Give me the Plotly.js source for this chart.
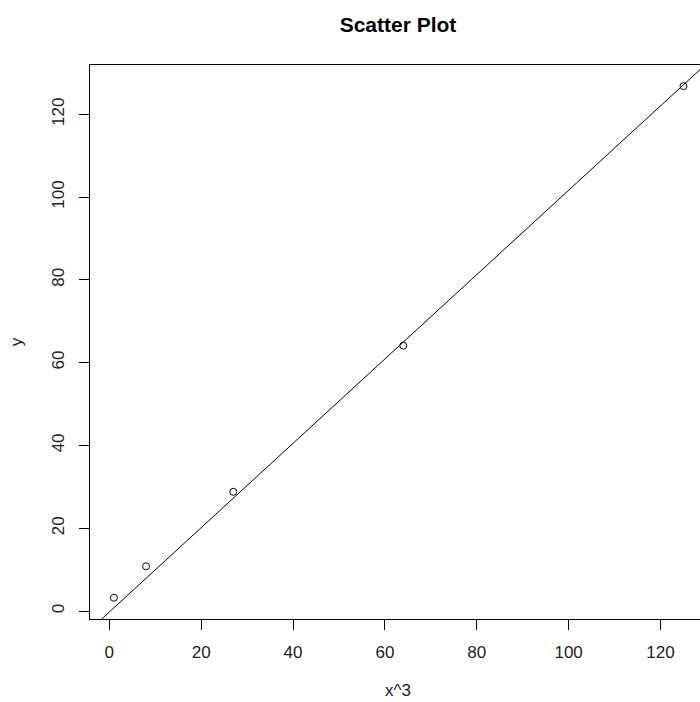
<!DOCTYPE html>
<html>
<head>
<meta charset="utf-8">
<script src="https://cdn.plot.ly/plotly-3.0.1.min.js"></script>
<style>
html, body { margin: 0; padding: 0; overflow: hidden; background: #fff; }
#chart { width: 720px; height: 702px; }
</style>
</head>
<body>
<div id="chart"></div>
<script>
// Data
const xCubed = [1, 8, 27, 64, 125];
const yValues = [3.2, 10.8, 28.8, 64.1, 126.8];
// Fitted straight line drawn across the plot (coefficients)
const fitIntercept = -0.25;
const fitSlope = 1.019;
const xTicks = [0, 20, 40, 60, 80, 100, 120];
const yTicks = [0, 20, 40, 60, 80, 100, 120];

const lineX = [-10, 140];
const lineY = lineX.map(v => fitIntercept + fitSlope * v);

const font = "Liberation Sans, Arial, sans-serif";

const traces = [
  {
    x: lineX, y: lineY, mode: 'lines', type: 'scatter',
    line: { color: '#000', width: 1 }, hoverinfo: 'skip', showlegend: false
  },
  {
    x: xCubed, y: yValues, mode: 'markers', type: 'scatter',
    marker: { symbol: 'circle-open', size: 7, color: '#000', line: { width: 1, color: '#000' } },
    showlegend: false, cliponaxis: false
  }
];

const layout = {
  width: 720, height: 702,
  margin: { l: 90, r: 14, t: 65, b: 83 },
  paper_bgcolor: '#fff', plot_bgcolor: '#fff',
  font: { family: font, color: '#000', size: 17 },
  title: {
    text: '<b>Scatter Plot</b>',
    font: { family: font, size: 21, color: '#000' },
    x: 0.5, xref: 'paper', xanchor: 'center',
    y: 1 - 25 / 702, yref: 'container', yanchor: 'middle'
  },
  xaxis: {
    range: [-4.2, 129.9],
    tickmode: 'array', tickvals: xTicks, ticktext: xTicks.map(String),
    ticks: 'outside', ticklen: 10, tickwidth: 1, tickcolor: '#000',
    showgrid: false, zeroline: false,
    showline: true, mirror: true, linecolor: '#000', linewidth: 1,
    tickfont: { family: font, size: 17, color: '#222' },
    ticklabelstandoff: 8,
    title: { text: 'x^3', font: { family: font, size: 17, color: '#222' }, standoff: 22 }
  },
  yaxis: {
    range: [-1.93, 131.9],
    tickmode: 'array', tickvals: yTicks, ticktext: yTicks.map(String),
    ticks: 'outside', ticklen: 10, tickwidth: 1, tickcolor: '#000',
    showgrid: false, zeroline: false,
    showline: true, mirror: true, linecolor: '#000', linewidth: 1,
    tickangle: -90,
    tickfont: { family: font, size: 17, color: '#222' },
    ticklabelstandoff: 8,
    title: { text: 'y', font: { family: font, size: 17, color: '#222' }, standoff: 22 }
  }
};

Plotly.newPlot('chart', traces, layout, { displayModeBar: false, staticPlot: true });
</script>
</body>
</html>
